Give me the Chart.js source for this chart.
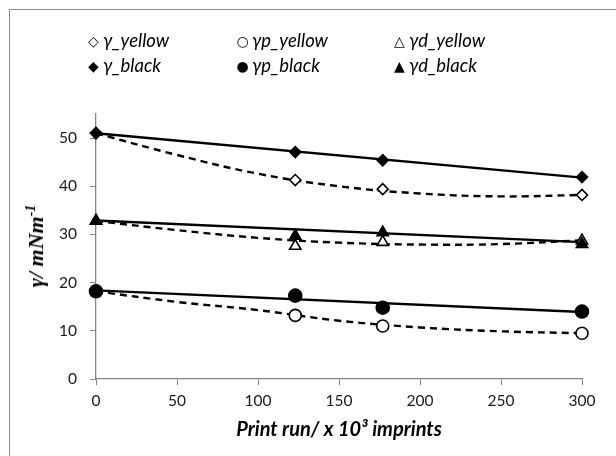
<!DOCTYPE html>
<html lang="en">
<head>
    <meta charset="UTF-8">
    <title>Surface tension vs print run</title>
    <style>
        body {
            margin: 0;
            padding: 0;
            background: #fff;
            overflow: hidden;
        }

        .wrap {
            position: relative;
            width: 616px;
            height: 456px;
        }

        .frame {
            position: absolute;
            left: 9px;
            top: 9px;
            width: 700px;
            height: 600px;
            border: 1.5px solid #8a8a8a;
        }

        #chart {
            position: absolute;
            left: 0;
            top: 0;
        }

        .legend-item {
            position: absolute;
            font-family: Lato, "Open Sans", sans-serif;
            font-style: italic;
            font-size: 18.5px;
            color: #000;
            line-height: 22px;
            white-space: nowrap;
        }

        .legend-item .mark {
            font-family: "DejaVu Sans", sans-serif;
            font-style: normal;
            font-size: 14px;
            display: inline-block;
            width: 13px;
            margin-right: 3px;
            text-align: center;
            vertical-align: 1px;
        }

        /* y axis title, rotated, with a real superscript */
        #ytitle {
            position: absolute;
            left: 36px;
            top: 246px;
            transform: translate(-50%, -50%) rotate(-90deg);
            font-family: "Liberation Serif", serif;
            font-weight: bold;
            font-style: italic;
            font-size: 22px;
            white-space: nowrap;
            color: #000;
        }

        #ytitle sup {
            font-size: 14px;
            vertical-align: 8px;
            line-height: 0;
        }
    </style>
    <script src="https://cdn.jsdelivr.net/npm/chart.js"></script>
</head>
<body>

<div class="wrap">
    <div class="frame"></div>
    <canvas id="chart" width="616" height="456"></canvas>
    <div id="legend"></div>
    <div id="ytitle">γ/ mNm<sup>-1</sup></div>
</div>

<script>
    // measured points (print run in thousands of imprints)
    const runs = [0, 123, 177, 300];
    const gammaYellow = [51.0, 41.3, 39.4, 38.2];
    const gammaPYellow = [18.2, 13.2, 11.0, 9.5];
    const gammaDYellow = [32.8, 27.6, 28.4, 28.7];
    const gammaBlack = [51.1, 47.1, 45.4, 41.9];
    const gammaPBlack = [18.2, 17.3, 14.8, 14.0];
    const gammaDBlack = [32.8, 29.7, 30.4, 28.0];

    // trend lines
    const trendRuns = [0, 50, 100, 150, 200, 250, 300];
    const trendGammaYellow = [51.0, 46.5, 42.6, 40.0, 38.5, 37.9, 38.2];
    const trendGammaDYellow = [32.8, 30.9, 29.3, 28.3, 27.9, 28.0, 28.8];
    const trendGammaPYellow = [18.2, 16.0, 14.3, 12.1, 10.7, 9.9, 9.5];
    const lineEnds = [0, 300];
    const trendGammaBlack = [51.0, 41.8];
    const trendGammaDBlack = [32.9, 28.4];
    const trendGammaPBlack = [18.4, 13.9];

    const seriesNames = ['γ_yellow', 'γp_yellow', 'γd_yellow', 'γ_black', 'γp_black', 'γd_black'];
    const legendMarks = ['◇', '○', '△', '◆', '●', '▲'];

    const xTicks = [0, 50, 100, 150, 200, 250, 300];
    const yTicks = [0, 10, 20, 30, 40, 50];

    function pts(xs, ys) {
        return xs.map((x, i) => ({ x: x, y: ys[i] }));
    }

    function markers(label, ys, style, filled, radius) {
        return {
            label: label,
            data: pts(runs, ys),
            showLine: false,
            pointStyle: style,
            pointRadius: radius,
            pointBorderWidth: 1.6,
            pointBorderColor: '#000',
            pointBackgroundColor: filled ? '#000' : '#fff',
            clip: false
        };
    }

    function trend(xs, ys, dashed) {
        return {
            label: 'trend',
            data: pts(xs, ys),
            showLine: true,
            pointRadius: 0,
            borderColor: '#000',
            borderWidth: 2.4,
            borderDash: dashed ? [7, 5] : [],
            tension: dashed ? 0.4 : 0,
            clip: false
        };
    }

    // earlier datasets are painted on top, so the black markers go first
    const datasets = [
        markers(seriesNames[3], gammaBlack, 'rectRot', true, 5.5),
        markers(seriesNames[4], gammaPBlack, 'circle', true, 6.5),
        markers(seriesNames[5], gammaDBlack, 'triangle', true, 6.5),
        markers(seriesNames[0], gammaYellow, 'rectRot', false, 5.5),
        markers(seriesNames[1], gammaPYellow, 'circle', false, 6),
        markers(seriesNames[2], gammaDYellow, 'triangle', false, 6.5),
        trend(trendRuns, trendGammaYellow, true),
        trend(trendRuns, trendGammaPYellow, true),
        trend(trendRuns, trendGammaDYellow, true),
        trend(lineEnds, trendGammaBlack, false),
        trend(lineEnds, trendGammaPBlack, false),
        trend(lineEnds, trendGammaDBlack, false)
    ];

    // legend laid out in a 3 x 2 grid like the original
    const legendCols = [87, 236, 393];
    const legendRows = [29, 54];
    const legendDiv = document.getElementById('legend');
    seriesNames.forEach((name, i) => {
        const item = document.createElement('div');
        item.className = 'legend-item';
        item.style.left = legendCols[i % 3] + 'px';
        item.style.top = legendRows[Math.floor(i / 3)] + 'px';
        item.innerHTML = '<span class="mark">' + legendMarks[i] + '</span>' + name;
        legendDiv.appendChild(item);
    });

    const axisGrey = '#868686';

    new Chart(document.getElementById('chart'), {
        type: 'scatter',
        data: { datasets: datasets },
        options: {
            responsive: false,
            animation: false,
            layout: {
                padding: { left: 10, right: 34, top: 114, bottom: 0 }
            },
            plugins: {
                legend: { display: false },
                tooltip: { enabled: false }
            },
            scales: {
                x: {
                    type: 'linear',
                    min: 0,
                    max: 300,
                    afterBuildTicks: s => { s.ticks = xTicks.map(v => ({ value: v })); },
                    afterFit: s => { s.height = 77; },
                    grid: {
                        drawOnChartArea: false,
                        color: axisGrey,
                        tickLength: 6,
                        lineWidth: 1
                    },
                    border: { color: axisGrey, width: 1.3 },
                    ticks: {
                        color: '#1a1a1a',
                        padding: 7,
                        maxRotation: 0,
                        font: { family: 'Lato', size: 15.5 }
                    },
                    title: {
                        display: true,
                        text: 'Print run/ x 10³ imprints',
                        color: '#000',
                        padding: { top: 0, bottom: 14 },
                        font: { family: 'Lato', size: 20, weight: 'bold', style: 'italic', lineHeight: 1.2 }
                    }
                },
                y: {
                    type: 'linear',
                    min: 0,
                    max: 55,
                    afterBuildTicks: s => { s.ticks = yTicks.map(v => ({ value: v })); },
                    afterFit: s => { s.width = 86; },
                    grid: {
                        drawOnChartArea: false,
                        color: axisGrey,
                        tickLength: 6,
                        lineWidth: 1
                    },
                    border: { color: axisGrey, width: 1.3 },
                    ticks: {
                        color: '#1a1a1a',
                        padding: 13,
                        font: { family: 'Lato', size: 15.5 }
                    },
                    title: { display: false }
                }
            }
        }
    });
</script>

</body>
</html>
